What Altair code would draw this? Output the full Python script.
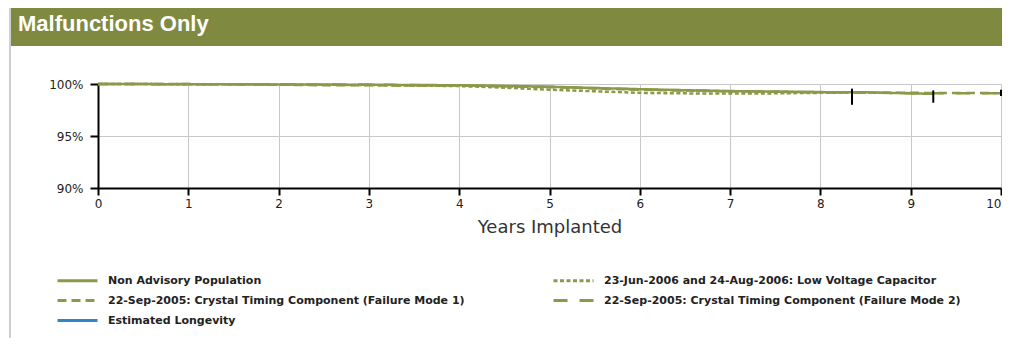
import altair as alt
import pandas as pd

# ---------------- data ----------------
SERIES = [
    "Non Advisory Population",
    "23-Jun-2006 and 24-Aug-2006: Low Voltage Capacitor",
    "22-Sep-2005: Crystal Timing Component (Failure Mode 1)",
    "22-Sep-2005: Crystal Timing Component (Failure Mode 2)",
    "Estimated Longevity",
]
COLORS = ["#8a9a48", "#8a9a48", "#8a9a48", "#8a9a48", "#2f86c4"]
DASHES = [[1, 0], [4, 2.5], [9, 5], [14, 12], [1, 0]]

non_adv_years = [0, 0.5, 1, 2, 3, 4, 4.5, 5, 5.5, 6, 6.5, 7, 7.5, 8, 8.5, 9, 9.25]
non_adv_pct = [100, 99.99, 99.98, 99.96, 99.93, 99.88, 99.82, 99.74, 99.62, 99.5, 99.4, 99.32, 99.27, 99.22, 99.2, 99.1, 99.05]

lowv_years = [0, 1, 2, 3, 4, 4.5, 5, 5.5, 6, 6.5, 7, 7.5, 8, 8.3]
lowv_pct = [100, 99.98, 99.95, 99.9, 99.8, 99.65, 99.45, 99.3, 99.15, 99.1, 99.08, 99.1, 99.15, 99.18]

mode1_years = [0, 1, 2, 2.5, 3, 4, 5, 6, 7, 8, 9, 10]
mode1_pct = [100, 99.99, 99.93, 99.88, 99.87, 99.85, 99.7, 99.45, 99.3, 99.2, 99.15, 99.12]

mode2_years = [0, 1, 2, 3, 4, 5, 6, 7, 8, 9, 10]
mode2_pct = [100, 99.99, 99.97, 99.94, 99.86, 99.72, 99.48, 99.3, 99.22, 99.12, 99.1]

err_years = [8.35, 9.25, 10]
err_high = [99.55, 99.38, 99.45]
err_low = [98.0, 98.2, 98.85]

X_TICKS = [0, 1, 2, 3, 4, 5, 6, 7, 8, 9, 10]
Y_TICKS = [90, 95, 100]
TITLE = "Malfunctions Only"

# ---------------- tables ----------------
rows = []
for name, xs, ys in [
    (SERIES[0], non_adv_years, non_adv_pct),
    (SERIES[1], lowv_years, lowv_pct),
    (SERIES[2], mode1_years, mode1_pct),
    (SERIES[3], mode2_years, mode2_pct),
]:
    for x, y in zip(xs, ys):
        rows.append({"years": x, "pct": y, "series": name})
df = pd.DataFrame(rows)
err_df = pd.DataFrame({"years": err_years, "hi": err_high, "lo": err_low})
one = pd.DataFrame({"t": [TITLE]})

W, H = 903, 104

legend = alt.Legend(
    title=None,
    orient="none",
    direction="horizontal",
    legendX=-27,
    legendY=190,
    columns=2,
    columnPadding=82,
    rowPadding=7,
    symbolType="M-4,0H4",
    symbolSize=100,
    symbolStrokeWidth=3,
    symbolFillColor="transparent",
    labelFont="DejaVu Sans",
    labelFontSize=11,
    labelFontWeight="bold",
    labelColor="#222222",
    labelOffset=24,
    labelLimit=800,
    padding=0,
)

xscale = alt.Scale(domain=[0, 10], nice=False)
yscale = alt.Scale(domain=[90, 100], nice=False, zero=False)

lines = alt.Chart(df).mark_line(strokeWidth=2.5).encode(
    x=alt.X("years:Q", scale=xscale,
            axis=alt.Axis(values=X_TICKS, title="Years Implanted", format="d",
                          labelAlign=alt.expr("datum.value >= 10 ? 'right' : 'center'"))),
    y=alt.Y("pct:Q", scale=yscale,
            axis=alt.Axis(values=Y_TICKS, labelExpr="datum.value + '%'", title=None)),
    color=alt.Color("series:N", scale=alt.Scale(domain=SERIES, range=COLORS),
                    legend=legend, sort=SERIES),
    strokeDash=alt.StrokeDash("series:N", scale=alt.Scale(domain=SERIES, range=DASHES),
                              legend=legend, sort=SERIES),
)

errs = alt.Chart(err_df).mark_rule(color="black", strokeWidth=2).encode(
    x=alt.X("years:Q", scale=xscale),
    y=alt.Y("hi:Q", scale=yscale),
    y2="lo:Q",
)

header = alt.Chart(one).mark_rect(color="#7f8940").encode(
    x=alt.value(-87), x2=alt.value(904), y=alt.value(-76), y2=alt.value(-38)
)
border = alt.Chart(one).mark_rule(color="#cfcfcf", strokeWidth=2).encode(
    x=alt.value(-88), y=alt.value(-76), y2=alt.value(260)
)
head_text = alt.Chart(one).mark_text(
    align="left", baseline="alphabetic", color="white",
    font="Liberation Sans", fontSize=22, fontWeight="bold"
).encode(x=alt.value(-80), y=alt.value(-53), text="t:N")

chart = alt.layer(lines, errs, header, border, head_text).properties(
    width=W, height=H,
    autosize=alt.AutoSizeParams(type="none"),
    padding={"left": 90, "top": 76, "right": 1, "bottom": 150},
).configure_view(stroke=None).configure_axis(
    domainColor="black", domainWidth=2,
    tickColor="black", tickWidth=2,
    gridColor="#c8c8c8", gridWidth=1,
    labelFont="DejaVu Sans", labelFontSize=12, labelColor="#222222",
    titleFont="DejaVu Sans", titleFontSize=18, titleFontWeight="normal", titleColor="#333333",
).configure_axisX(
    tickSize=7, labelPadding=3, titlePadding=9, labelFlush=False
).configure_axisY(
    tickSize=8, labelPadding=7
)

chart.save("out.html", embed_options={"renderer": "svg", "actions": False})
